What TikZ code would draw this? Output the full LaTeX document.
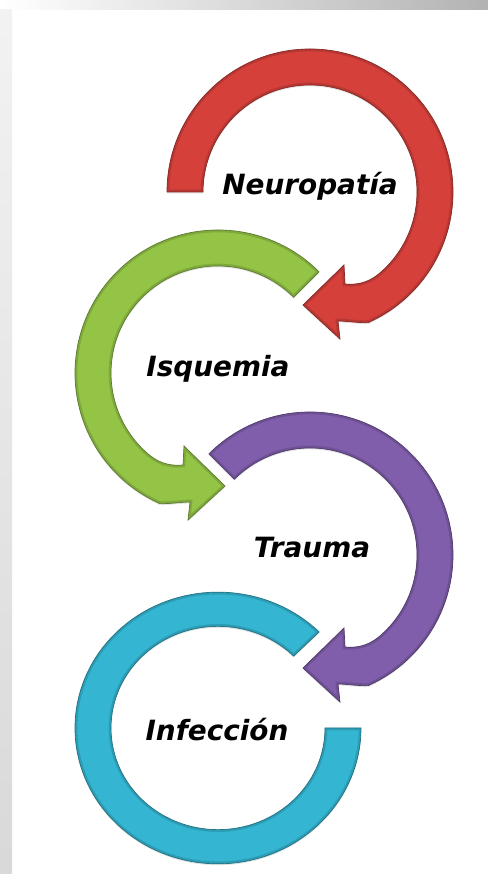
\documentclass[tikz,border=0pt]{standalone}
\usepackage{fontspec}
\newfontfamily\rotulo{DejaVu Sans Bold Oblique}
\usetikzlibrary{shadows}
\definecolor{rojo}{RGB}{213,64,59}
\definecolor{verde}{RGB}{148,196,70}
\definecolor{morado}{RGB}{128,94,172}
\definecolor{celeste}{RGB}{52,182,210}
% flecha circular, #1 = angulo de inicio
\newcommand{\flecha}[1]{(#1:143) arc (#1:-66:143) .. controls (48,-131) and (36,-129) .. (28,-129) -- (30,-147) -- (-7,-113) -- (34,-73) -- (35,-92) .. controls (45,-93) and (57,-91.6) .. (-50:107) arc (-50:#1:107) -- cycle}
\newcommand{\aro}{(135:143) arc (135:-180:143) -- (180:107) arc (-180:135:107) -- cycle}

\begin{document}
\begin{tikzpicture}[x=0.03cm,y=0.03cm,
	anillo/.style={fill=#1, draw=#1!65!black, line width=0.6pt,
		drop shadow={opacity=0.2,shadow xshift=0pt,shadow yshift=-1.2pt}},
	borde/.style={draw=#1!55!black, opacity=0.3, line width=4pt},
	etiqueta/.style={font=\rotulo\fontsize{23.8}{28}\selectfont, anchor=base}]
		\useasboundingbox (0,0) rectangle (488,874);
		%Fondo
		\fill [white] (0,0) rectangle (488,874);
		\shade [left color=white, right color=gray!60] (0,864) rectangle (488,874);
		\shade [top color=gray!10, bottom color=gray!30] (0,0) rectangle (12,864);
		%Flechas
		\foreach \cx/\cy/\sx/\ini/\col in {310/682/1/180/rojo, 218/501/-1/135/verde, 310/319/1/135/morado}{
			\begin{scope}[shift={(\cx,\cy)}, xscale=\sx]
				\path [anillo=\col] \flecha{\ini};
				\begin{scope}
					\clip \flecha{\ini};
					\path [borde=\col] \flecha{\ini};
				\end{scope}
			\end{scope}
		}
		%Infeccion
		\begin{scope}[shift={(218,146)}, xscale=-1, yscale=0.95]
			\path [anillo=celeste] \aro;
			\begin{scope}
				\clip \aro;
				\path [borde=celeste] \aro;
			\end{scope}
		\end{scope}
		%Textos
		\node [etiqueta] (neuro) at (310,679) {Neuropatía};
		\node [etiqueta] (isq) at (218,497) {Isquemia};
		\node [etiqueta] (trauma) at (312,316) {Trauma};
		\node [etiqueta] (infec) at (217,133) {Infección};
	\end{tikzpicture}
\end{document}
